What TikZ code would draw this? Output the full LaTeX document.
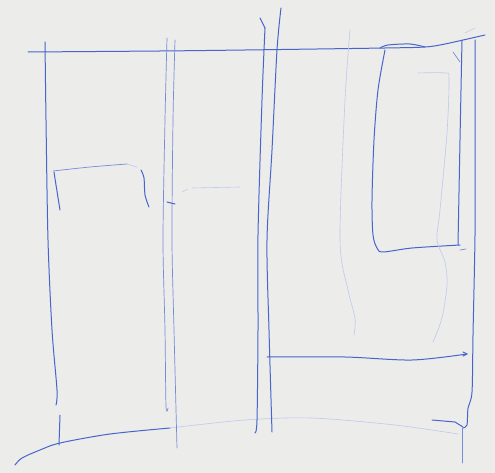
\documentclass[tikz,border=0pt]{standalone}
\usepackage{tikz}
\usetikzlibrary{calc}
\definecolor{paper}{RGB}{236,236,234}
\definecolor{ink}{RGB}{72,100,205}
\begin{document}
\begin{tikzpicture}[x=1pt,y=-1pt,line cap=round,line join=round,
  pen/.style={draw=ink,line width=1pt},
  thin/.style={draw=ink!75,line width=0.7pt},
  faint/.style={draw=ink!35,line width=0.6pt}]
\fill[paper](0,0)rectangle(495,473);
\useasboundingbox(0,0)rectangle(495,473);
% top edge and floor
\draw[pen]plot[smooth]coordinates{(28,52)(160,51)(245,50)(385,48)(425,47)(445,44)(485,35)};
\draw[pen]plot[smooth]coordinates{(15,465)(22,458)(40,450)(60,443)(110,434)(170,428)};
\draw[faint]plot[smooth]coordinates{(170,428)(245,420)(312,418)(395,425)(458,434)};
% left wall
\draw[pen]plot[smooth]coordinates{(45,42)(46,120)(48,240)(52,330)(57,390)(56,405)};
\draw[pen](60,415)--(59,445);
% small box
\draw[pen]plot[smooth]coordinates{(54,172)(56,185)(60,210)};
\draw[thin]plot[smooth]coordinates{(53,171)(90,167)(127,164)};
\draw[faint]plot[smooth]coordinates{(127,164)(137,167)};
\draw[pen]plot[smooth]coordinates{(141,170)(144,178)(145,195)(149,207)};
% middle pair
\draw[thin]plot[smooth]coordinates{(167,38)(165,120)(163,240)(165,330)(166,406)(168,408)};
\draw[thin]plot[smooth]coordinates{(175,40)(173,120)(172,240)(174,330)(177,448)};
\draw[pen](167,202)--(175,204);
\draw[faint](182,192)--(188,189)(192,188)--(240,187);
% right pair
\draw[pen](260,18)--(265,28);
\draw[pen]plot[smooth]coordinates{(265,28)(262,100)(258,235)(258,330)(257,420)(255,433)};
\draw[pen]plot[smooth]coordinates{(281,8)(277,50)(272,150)(267,240)(269,330)(272,432)};
% faint stroke
\draw[faint]plot[smooth]coordinates{(350,30)(345,100)(340,240)(348,290)(355,318)(354,335)};
% window
\draw[pen]plot[smooth]coordinates{(380,48)(388,45)(410,44)(425,47)};
\draw[pen]plot[smooth]coordinates{(385,50)(378,90)(374,140)(372,200)(373,235)(377,248)(383,252)(412,248)(460,245)};
\draw[pen]plot[smooth]coordinates{(462,40)(460,140)(458,245)};
\draw[thin](453,52)--(460,62);
\draw[faint](465,33)--(475,28);
\draw[thin](460,250)--(466,249);
\draw[faint]plot[smooth]coordinates{(418,73)(445,73)(449,79)(447,133)(440,210)(437,240)(445,262)(447,285)(442,318)(433,342)};
% right wall
\draw[pen]plot[smooth]coordinates{(475,40)(475,150)(475,235)(473,335)(472,392)(468,408)(467,425)(463,428)};
\draw[pen](432,420)--(455,422)--(463,427);
\draw[thin](462,428)--(462,463);
% shelf
\draw[pen]plot[smooth]coordinates{(267,357)(345,357)(412,360)(467,354)};
\draw[pen](463,352)--(467,354)--(463,356);
\end{tikzpicture}
\end{document}
